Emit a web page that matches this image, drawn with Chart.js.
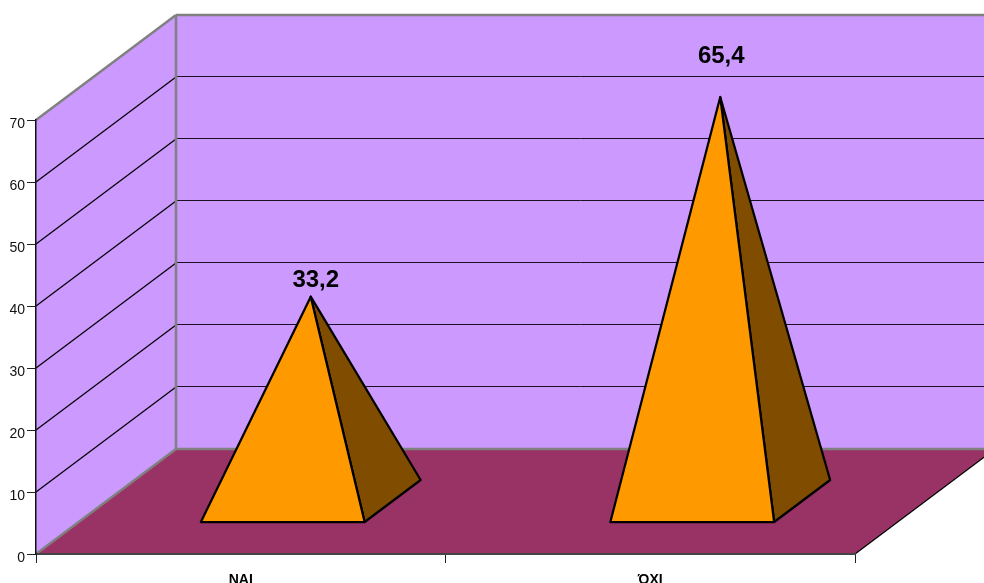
<!DOCTYPE html>
<html>
<head>
<meta charset="utf-8">
<style>html,body{margin:0;padding:0;background:#fff;overflow:hidden}canvas{display:block}</style>
<script src="https://cdn.jsdelivr.net/npm/chart.js@4"></script>
</head>
<body>
<div style="width:984px;height:583px"><canvas id="c" width="984" height="583"></canvas></div>
<script>
const categories = ['ΝΑΙ', 'ΌΧΙ'];
const values = [33.2, 65.4];
const yTicks = {min: 0, max: 70, step: 10};
const labelNudgeX = [5, 1];
const labelNudgeY = [-10, -34];

const DX = 140, DY = -105;
const PURPLE = '#CC99FF', FLOOR = '#993366', ORANGE = '#FF9900', BROWN = '#804D00', EDGE = '#808080';

function poly(ctx, pts, fill, stroke, lw) {
  ctx.beginPath();
  pts.forEach((p, i) => i ? ctx.lineTo(p[0], p[1]) : ctx.moveTo(p[0], p[1]));
  ctx.closePath();
  if (fill) { ctx.fillStyle = fill; ctx.fill(); }
  if (stroke) { ctx.strokeStyle = stroke; ctx.lineWidth = lw; ctx.stroke(); }
}
function seg(ctx, a, b, color, lw) {
  ctx.beginPath(); ctx.moveTo(a[0], a[1]); ctx.lineTo(b[0], b[1]);
  ctx.strokeStyle = color; ctx.lineWidth = lw; ctx.stroke();
}

const scene = {
  id: 'scene',
  beforeDraw(chart) {
    const ctx = chart.ctx, x = chart.scales.x, y = chart.scales.y;
    const L = x.left, R = x.right, B = y.bottom, T = y.top;
    ctx.save();
    poly(ctx, [[L, B], [L + DX, B + DY], [L + DX, T + DY], [L, T]], PURPLE);
    poly(ctx, [[L + DX, B + DY], [R + DX, B + DY], [R + DX, T + DY], [L + DX, T + DY]], PURPLE);
    poly(ctx, [[L, B], [L + DX, B + DY], [R + DX, B + DY], [R, B]], FLOOR);
    y.ticks.forEach(t => {
      if (t.value <= yTicks.min || t.value >= yTicks.max) return;
      const p = Math.round(y.getPixelForValue(t.value));
      seg(ctx, [L, p], [L + DX, p + DY], '#000', 1.25);
      seg(ctx, [L + DX, p + DY - 0.5], [R + DX, p + DY - 0.5], '#1a0f24', 1);
    });
    seg(ctx, [L, T], [L + DX, T + DY], EDGE, 2.5);
    seg(ctx, [L + DX, T + DY], [R + DX, T + DY], EDGE, 2.5);
    seg(ctx, [L + DX, T + DY], [L + DX, B + DY], EDGE, 2.5);
    seg(ctx, [L + DX, B + DY], [R + DX, B + DY], EDGE, 2.5);
    seg(ctx, [L, B], [L + DX, B + DY], EDGE, 2.5);
    seg(ctx, [R, B], [R + DX, B + DY], '#000', 1.25);
    ctx.restore();
  },
  afterDatasetsDraw(chart) {
    const ctx = chart.ctx, bars = chart.getDatasetMeta(0).data;
    ctx.save();
    ctx.lineJoin = 'round';
    bars.forEach((bar, i) => {
      const hw = bar.width / 2;
      const fx = bar.x + DX * 0.3, fy = bar.base + DY * 0.3;
      const bx = DX * 0.4, by = DY * 0.4;
      const apex = [bar.x + DX / 2, bar.y + DY / 2 + 1];
      const fl = [fx - hw, fy], fr = [fx + hw, fy], br = [fx + hw + bx, fy + by];
      poly(ctx, [fr, br, apex], BROWN, '#000', 2.25);
      poly(ctx, [fl, fr, apex], ORANGE, '#000', 2.25);
      ctx.fillStyle = '#000';
      ctx.font = 'bold 24px "Liberation Sans"';
      ctx.textAlign = 'center';
      ctx.textBaseline = 'alphabetic';
      ctx.fillText(String(values[i]).replace('.', ','), apex[0] + labelNudgeX[i], apex[1] + labelNudgeY[i]);
    });
    ctx.restore();
  }
};

new Chart(document.getElementById('c'), {
  type: 'bar',
  data: {
    labels: categories,
    datasets: [{data: values, backgroundColor: 'transparent', borderWidth: 0, barPercentage: 0.4, categoryPercentage: 1}]
  },
  options: {
    responsive: false,
    animation: false,
    layout: {padding: {left: 0, top: 120, right: 129, bottom: 0}},
    plugins: {legend: {display: false}, title: {display: false}, tooltip: {enabled: false}},
    scales: {
      x: {
        afterFit(s) { s.height = 29; },
        grid: {drawOnChartArea: false, drawTicks: true, tickLength: 9, tickColor: '#222', tickWidth: 1, offset: true},
        border: {display: true, color: '#444', width: 2},
        ticks: {color: '#000', font: {family: '"Liberation Sans"', size: 14, weight: 'bold'}, padding: 9, maxRotation: 0}
      },
      y: {
        min: yTicks.min, max: yTicks.max,
        afterFit(s) { s.width = 36; },
        grid: {drawOnChartArea: false, drawTicks: true, tickLength: 9, tickColor: '#222', tickWidth: 1},
        border: {display: true, color: '#111', width: 1.5},
        ticks: {stepSize: yTicks.step, color: '#111', font: {family: '"Liberation Sans"', size: 14}, padding: 2, labelOffset: 4}
      }
    }
  },
  plugins: [scene]
});
</script>
</body>
</html>
